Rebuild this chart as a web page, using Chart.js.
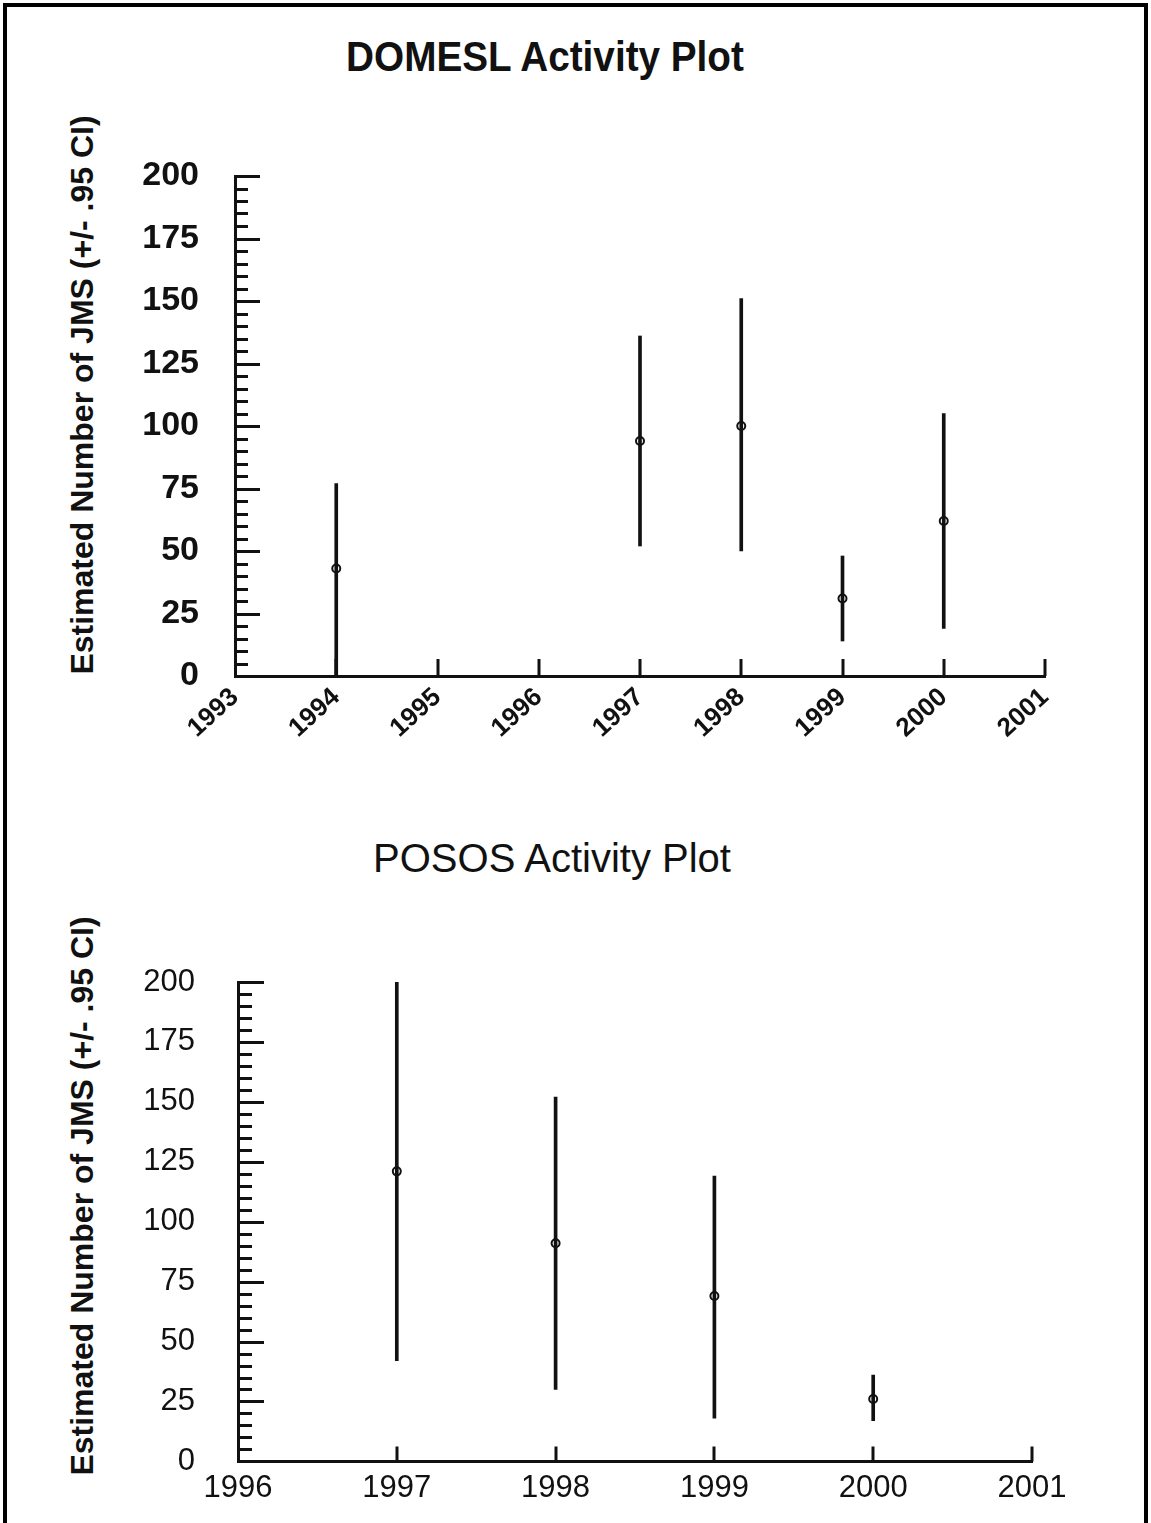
<!DOCTYPE html>
<html>
<head>
<meta charset="utf-8">
<script src="https://cdn.jsdelivr.net/npm/chart.js@4.4.0/dist/chart.umd.min.js"></script>
<style>
  body { margin: 0; background: #fff; width: 1151px; height: 1523px; overflow: hidden; position: relative; }
  #frame { position: absolute; left: 3px; top: 3px; width: 1137px; height: 1540px; border: 4px solid #000; border-bottom: none; }
  canvas { position: absolute; left: 0; }
  .title { position: absolute; white-space: nowrap; color: #111; font-family: 'Liberation Sans', Arial, sans-serif; }
  .ytitle { position: absolute; transform: translate(-50%, -50%) rotate(-90deg); white-space: nowrap; color: #111;
            font-family: 'Liberation Sans', Arial, sans-serif; font-weight: bold; font-size: 32px; }
</style>
</head>
<body>
<div id="frame"></div>
<div class="title" style="left:545px; top:56px; font-size:43px; font-weight:bold; transform: translate(-50%, -50%) scaleX(0.9);">DOMESL Activity Plot</div>
<div class="ytitle" style="left:82px; top:395px;">Estimated Number of JMS (+/- .95 CI)</div>
<canvas id="domesl" width="1151" height="800" style="top:0"></canvas>

<div class="title" style="left:552px; top:858px; font-size:40px; transform: translate(-50%, -50%);">POSOS Activity Plot</div>
<div class="ytitle" style="left:82px; top:1196px;">Estimated Number of JMS (+/- .95 CI)</div>
<canvas id="posos" width="1151" height="743" style="top:780px"></canvas>

<script>
// DOMESL – estimates with 95% CI
const domeslYears = [1994, 1997, 1998, 1999, 2000];
const domeslMean  = [43, 94, 100, 31, 62];
const domeslLow   = [0, 52, 50, 14, 19];
const domeslHigh  = [77, 136, 151, 48, 105];
const domeslXTicks = [1993, 1994, 1995, 1996, 1997, 1998, 1999, 2000, 2001];

// POSOS – estimates with 95% CI
const pososYears = [1997, 1998, 1999, 2000];
const pososMean  = [121, 91, 69, 26];
const pososLow   = [42, 30, 18, 17];
const pososHigh  = [200, 152, 119, 36];
const pososXTicks = [1996, 1997, 1998, 1999, 2000, 2001];

const yTicks = [0, 25, 50, 75, 100, 125, 150, 175, 200];

const FONT = "'Liberation Sans', Arial, sans-serif";
const INK = '#111';

// ticks drawn into the plot area, like the original
const inwardTicks = {
    id: 'inwardTicks',
    afterDraw(chart, args, opts) {
        const ctx = chart.ctx;
        const area = chart.chartArea;
        const x = chart.scales.x, y = chart.scales.y;
        ctx.save();
        ctx.strokeStyle = INK;
        ctx.lineWidth = opts.width;
        ctx.beginPath();
        for (let v = y.min + opts.minorStep; v <= y.max; v += opts.minorStep) {
            const py = Math.round(y.getPixelForValue(v)) + 0.5;
            const len = v % opts.majorStep === 0 ? opts.majorLen : opts.minorLen;
            ctx.moveTo(area.left, py);
            ctx.lineTo(area.left + len, py);
        }
        x.ticks.forEach(t => {
            if (t.value === x.min) return;
            const px = Math.round(x.getPixelForValue(t.value));
            ctx.moveTo(px, area.bottom);
            ctx.lineTo(px, area.bottom - opts.xLen);
        });
        ctx.stroke();
        ctx.restore();
    }
};

function buildChart(id, cfg) {
    const barData = cfg.years.map((yr, i) => ({ x: yr, y: [cfg.low[i], cfg.high[i]] }));
    const pointData = cfg.years.map((yr, i) => ({ x: yr, y: cfg.mean[i] }));

    return new Chart(document.getElementById(id), {
        type: 'bar',
        data: {
            datasets: [
                {
                    type: 'bar',
                    label: '95% CI',
                    data: barData,
                    backgroundColor: INK,
                    borderWidth: 0,
                    barThickness: cfg.barWidth,
                    grouped: false
                },
                {
                    type: 'scatter',
                    label: 'Estimate',
                    data: pointData,
                    pointStyle: 'circle',
                    pointRadius: 4,
                    pointBorderWidth: 2,
                    pointBackgroundColor: '#fff',
                    pointBorderColor: INK
                }
            ]
        },
        options: {
            responsive: false,
            animation: false,
            layout: { padding: cfg.padding },
            plugins: {
                legend: { display: false },
                tooltip: { enabled: false },
                inwardTicks: {
                    width: 3,
                    minorStep: 5,
                    majorStep: 25,
                    majorLen: cfg.majorLen,
                    minorLen: cfg.minorLen,
                    xLen: cfg.xLen
                }
            },
            scales: {
                x: {
                    type: 'linear',
                    offset: false,
                    min: cfg.xTicks[0],
                    max: cfg.xTicks[cfg.xTicks.length - 1],
                    afterBuildTicks: axis => { axis.ticks = cfg.xTicks.map(v => ({ value: v })); },
                    afterFit: axis => { axis.height = cfg.xAxisHeight; },
                    grid: { display: true, drawOnChartArea: false, drawTicks: false },
                    border: { display: true, color: INK, width: 3 },
                    ticks: {
                        autoSkip: false,
                        minRotation: cfg.rotation,
                        maxRotation: cfg.rotation,
                        padding: cfg.xPad,
                        color: INK,
                        font: { family: FONT, size: cfg.xFont, weight: cfg.weight },
                        callback: v => String(v)
                    }
                },
                y: {
                    min: 0,
                    max: 200,
                    afterBuildTicks: axis => { axis.ticks = yTicks.map(v => ({ value: v })); },
                    afterFit: axis => { axis.width = cfg.yAxisWidth; },
                    grid: { display: true, drawOnChartArea: false, drawTicks: false },
                    border: { display: true, color: INK, width: 3 },
                    ticks: {
                        padding: cfg.yPad,
                        color: INK,
                        font: { family: FONT, size: cfg.yFont, weight: cfg.weight },
                        callback: v => String(v)
                    }
                }
            }
        },
        plugins: [inwardTicks]
    });
}

buildChart('domesl', {
    years: domeslYears, mean: domeslMean, low: domeslLow, high: domeslHigh,
    xTicks: domeslXTicks,
    padding: { left: 100, right: 106, top: 176, bottom: 0 },
    yAxisWidth: 135, xAxisHeight: 124,
    rotation: 42, xPad: 6, xFont: 26, yFont: 34, yPad: 36, weight: 'bold',
    barWidth: 3, majorLen: 25, minorLen: 13, xLen: 17
});

buildChart('posos', {
    years: pososYears, mean: pososMean, low: pososLow, high: pososHigh,
    xTicks: pososXTicks,
    padding: { left: 100, right: 119, top: 202, bottom: 0 },
    yAxisWidth: 138, xAxisHeight: 58,
    rotation: 0, xPad: 8, xFont: 31, yFont: 31, yPad: 43, weight: 'normal',
    barWidth: 3, majorLen: 26, minorLen: 14, xLen: 15
});
</script>
</body>
</html>
